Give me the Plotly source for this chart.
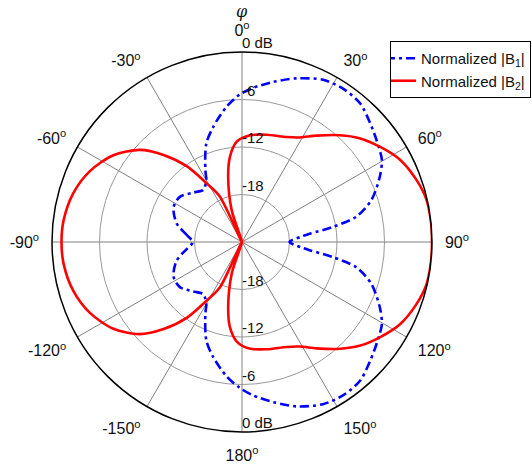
import plotly.graph_objects as go

# Normalized |B1| pattern (dB) versus azimuth phi (degrees, clockwise from top)
b1_theta = [-90, -83, -74, -63, -54, -45, -37, -34, -30, -27, -20, -14, -6.5, -1,
            4, 11, 18.5, 26.5, 33.5, 40.5, 47, 53, 59.5, 64.5, 72, 77.5, 80.5, 83, 85, 90,
            95, 97, 99.5, 102.5, 108, 115.5, 120.5, 127, 133, 139.5, 146.5, 153.5,
            161.5, 169, 176, 181, 186.5, 194, 200, 207, 210, 214, 217, 225, 234, 243,
            254, 263, 270]
b1_db = [-17.8, -17.0, -15.4, -14.3, -14.3, -15.2, -15.8, -15.6, -15.0, -13.8, -10.8, -9.0, -6.8, -5.4,
         -4.5, -3.4, -2.2, -1.1, -0.8, -1.0, -1.9, -2.7, -3.5, -4.7, -6.8, -9.2, -12.3, -15.3, -16.6, -18.0,
         -16.6, -15.3, -12.3, -9.2, -6.8, -4.7, -3.5, -2.7, -1.9, -1.0, -0.8, -1.1,
         -2.1, -3.4, -4.6, -5.6, -6.9, -9.0, -10.8, -13.8, -15.0, -15.6, -15.8, -15.2, -14.3, -14.3,
         -15.4, -17.0, -17.8]

# Normalized |B2| pattern (dB)
b2_theta = [-90, -83, -74, -65, -56, -48, -42, -36, -31, -26, -21, -18, -12, -8, -3,
            4, 13, 23, 29, 35, 42.5, 48.5, 55.5, 62.5, 70.5, 77, 84, 90,
            96, 103, 109.5, 117.5, 124.5, 131.5, 137.5, 145, 151, 157, 167, 176,
            183, 188, 192, 198, 201, 206, 211, 216, 222, 228, 236, 245, 254, 263, 270]
b2_db = [-1.2, -1.3, -1.8, -2.8, -4.4, -6.6, -9.2, -12.2, -15.4, -17.6, -24, -19.8, -15.6, -13.1, -11.3,
         -10.5, -10.1, -9.6, -8.9, -7.6, -5.7, -4.2, -2.8, -1.5, -0.6, -0.1, 0, 0,
         0, -0.1, -0.6, -1.5, -2.8, -4.2, -5.7, -7.6, -8.9, -9.6, -10.1, -10.5,
         -11.4, -13.1, -15.6, -19.8, -24, -17.6, -15.4, -12.2, -9.2, -6.6, -4.4, -2.8, -1.8, -1.3, -1.2]

# Axis ticks
ang_vals = [0, 30, 60, 90, 120, 150, 180, 210, 240, 270, 300, 330]
ang_text = ["0", "30", "60", "90", "120", "150", "180", "-150", "-120", "-90", "-60", "-30"]
rad_vals = [-18, -12, -6, 0]
rad_text = ["-18", "-12", "-6", "0 dB"]

FONT = "Liberation Sans, Arial, sans-serif"

fig = go.Figure()
fig.add_trace(go.Scatterpolar(
    r=b1_db, theta=b1_theta, mode="lines", name="Normalized |B<sub>1</sub>|",
    line=dict(color="#0000ff", width=2.6, dash="9px,4px,3px,4px",
              shape="spline", smoothing=0.8),
))
fig.add_trace(go.Scatterpolar(
    r=b2_db, theta=b2_theta, mode="lines", name="Normalized |B<sub>2</sub>|",
    line=dict(color="#ff0000", width=2.6, shape="spline", smoothing=0.8),
))
# dB labels along the 0 and 180 degree spokes
fig.add_trace(go.Scatterpolar(
    r=rad_vals + rad_vals, theta=[0] * 4 + [180] * 4,
    text=rad_text + rad_text, mode="text", textposition="top right",
    textfont=dict(family=FONT, size=15, color="#111"),
    showlegend=False, hoverinfo="skip", cliponaxis=False,
))

fig.update_layout(
    width=532, height=468,
    margin=dict(l=0, r=0, t=0, b=0, autoexpand=False),
    paper_bgcolor="white",
    font=dict(family=FONT, size=16, color="#111"),
    polar=dict(
        domain=dict(x=[52 / 532, 432 / 532], y=[1 - 432 / 468, 1 - 52 / 468]),
        bgcolor="white",
        angularaxis=dict(
            rotation=90, direction="clockwise",
            tickmode="array", tickvals=ang_vals,
            ticktext=[t + "<sup>o</sup>" for t in ang_text],
            ticks="outside", ticklen=9, tickcolor="rgba(0,0,0,0)",
            showline=True, linecolor="black", linewidth=1.5,
            gridcolor="#808080", gridwidth=1,
            tickfont=dict(family=FONT, size=16, color="#111"),
        ),
        radialaxis=dict(
            range=[-24, 0], tickmode="array", tickvals=rad_vals,
            showticklabels=False, ticks="", showline=False,
            gridcolor="#999999", gridwidth=1,
        ),
    ),
    legend=dict(
        x=390 / 532, y=1 - 41 / 468, xanchor="left", yanchor="top",
        bgcolor="white", bordercolor="black", borderwidth=1,
        font=dict(family=FONT, size=15, color="#111"),
        tracegroupgap=0, indentation=-10,
    ),
    annotations=[dict(
        text="<i>φ</i>", x=242 / 532, y=1 - 11 / 468, xref="paper", yref="paper",
        xanchor="center", yanchor="middle", showarrow=False,
        font=dict(family="DejaVu Serif, serif", size=16, color="#111"),
    )],
)

fig.write_html("out.html")
